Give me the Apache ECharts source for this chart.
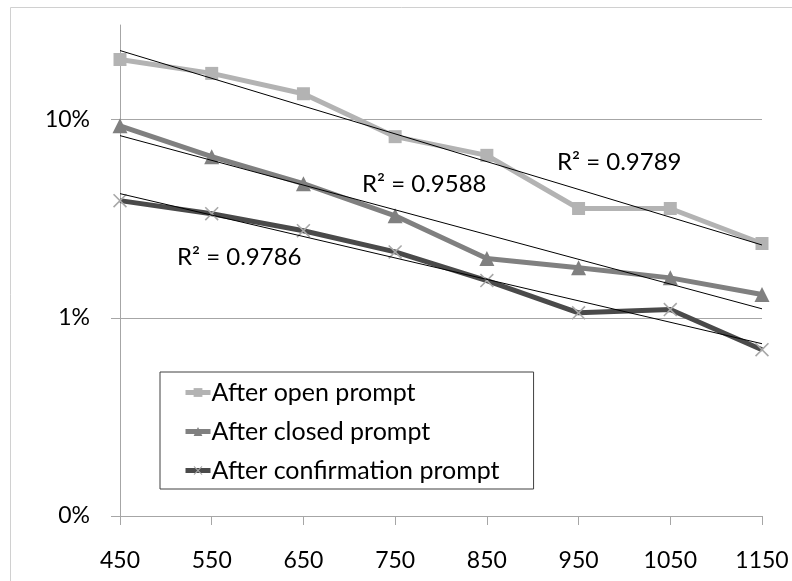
<!DOCTYPE html>
<html>
<head>
<meta charset="utf-8">
<script src="https://cdn.jsdelivr.net/npm/echarts@6/dist/echarts.min.js"></script>
<style>
  html, body { margin: 0; padding: 0; background: #fff; }
  #chart { width: 792px; height: 581px; }
</style>
</head>
<body>
<div id="chart"></div>
<script>
// Prompt length categories (x axis)
const categories = ['450', '550', '650', '750', '850', '950', '1050', '1150'];

// Rates per prompt type, as fractions (plotted on a log axis)
const openPrompt = [0.201, 0.171, 0.135, 0.082, 0.066, 0.0356, 0.0356, 0.0237];
const closedPrompt = [0.093, 0.065, 0.0475, 0.0327, 0.0199, 0.0179, 0.0159, 0.0131];
const confirmationPrompt = [0.039, 0.0335, 0.0275, 0.0215, 0.0154, 0.0106, 0.0110, 0.0069];

// Exponential trend lines: value at the first and last category
const openTrend = [0.223, 0.0233];
const closedTrend = [0.083, 0.0111];
const confirmationTrend = [0.0423, 0.0074];

// Fit quality labels
const r2Labels = ['R\u00B2 = 0.9789', 'R\u00B2 = 0.9588', 'R\u00B2 = 0.9786'];

// Y axis ticks (log scale)
const yTicks = [0.001, 0.01, 0.1];

const FONT = 'Lato';
const AXIS_GRAY = '#a6a6a6';

function trendData(ends) {
  const d = categories.map(() => null);
  d[0] = ends[0];
  d[d.length - 1] = ends[1];
  return d;
}

const crossPath = 'path://M0,0.8L0.8,0L10,9.2L9.2,10Z M9.2,0L10,0.8L0.8,10L0,9.2Z';

const chart = echarts.init(document.getElementById('chart'), null, { renderer: 'canvas' });

const trendStyle = {
  type: 'line',
  symbol: 'none',
  connectNulls: true,
  silent: true,
  lineStyle: { color: '#000', width: 1 },
  z: 5,
  legendHoverLink: false
};

chart.setOption({
  animation: false,
  backgroundColor: '#fff',
  textStyle: { fontFamily: FONT },
  grid: { left: 120, right: 30, top: 25, bottom: 65 },
  xAxis: {
    type: 'category',
    data: categories,
    boundaryGap: false,
    axisLine: { lineStyle: { color: AXIS_GRAY, width: 1 } },
    axisTick: { show: true, length: 9, inside: false, lineStyle: { color: AXIS_GRAY } },
    axisLabel: { color: '#000', fontSize: 23, fontFamily: FONT, margin: 33 },
    splitLine: { show: false }
  },
  yAxis: {
    type: 'log',
    logBase: 10,
    min: 0.001,
    max: 0.3,
    axisLine: { show: true, lineStyle: { color: AXIS_GRAY, width: 1 } },
    axisTick: { show: true, length: 9, customValues: yTicks, lineStyle: { color: AXIS_GRAY } },
    axisLabel: {
      color: '#000', fontSize: 23, fontFamily: FONT, margin: 30,
      customValues: yTicks,
      formatter: v => Math.round(v * 100) + '%'
    },
    splitLine: { show: true, lineStyle: { color: AXIS_GRAY, width: 1 } }
  },
  legend: {
    orient: 'vertical',
    left: 160,
    top: 372,
    itemWidth: 25,
    itemHeight: 11,
    itemGap: 14,
    padding: [8, 34, 6, 23],
    borderColor: '#404040',
    borderWidth: 1,
    backgroundColor: '#fff',
    lineStyle: { width: 'inherit' },
    textStyle: { color: '#000', fontSize: 25, fontFamily: FONT, padding: [0, 0, 0, -4] },
    data: ['After open prompt', 'After closed prompt', 'After confirmation prompt']
  },
  graphic: [
    {
      type: 'rect',
      shape: { x: 10.5, y: 7.5, width: 900, height: 700 },
      style: { fill: null, stroke: '#d0d0d0', lineWidth: 1 },
      silent: true, z: -10
    },
    { type: 'text', left: 557, top: 150, style: { text: r2Labels[0], font: '24px ' + FONT, fill: '#000' } },
    { type: 'text', left: 362, top: 172, style: { text: r2Labels[1], font: '24px ' + FONT, fill: '#000' } },
    { type: 'text', left: 177, top: 245, style: { text: r2Labels[2], font: '24px ' + FONT, fill: '#000' } }
  ],
  series: [
    {
      name: 'After open prompt',
      type: 'line',
      data: openPrompt,
      symbol: 'rect',
      symbolSize: 13,
      lineStyle: { color: '#b3b3b3', width: 5 },
      itemStyle: { color: '#b3b3b3' },
      z: 3
    },
    {
      name: 'After closed prompt',
      type: 'line',
      data: closedPrompt,
      symbol: 'triangle',
      symbolSize: 15,
      lineStyle: { color: '#808080', width: 5 },
      itemStyle: { color: '#808080' },
      z: 3
    },
    {
      name: 'After confirmation prompt',
      type: 'line',
      data: confirmationPrompt,
      symbol: crossPath,
      symbolSize: 14,
      lineStyle: { color: '#4a4a4a', width: 5 },
      itemStyle: { color: '#a8a8a8' },
      z: 3
    },
    Object.assign({ name: 'open trend', data: trendData(openTrend) }, trendStyle),
    Object.assign({ name: 'closed trend', data: trendData(closedTrend) }, trendStyle),
    Object.assign({ name: 'confirmation trend', data: trendData(confirmationTrend) }, trendStyle)
  ]
});
</script>
</body>
</html>
